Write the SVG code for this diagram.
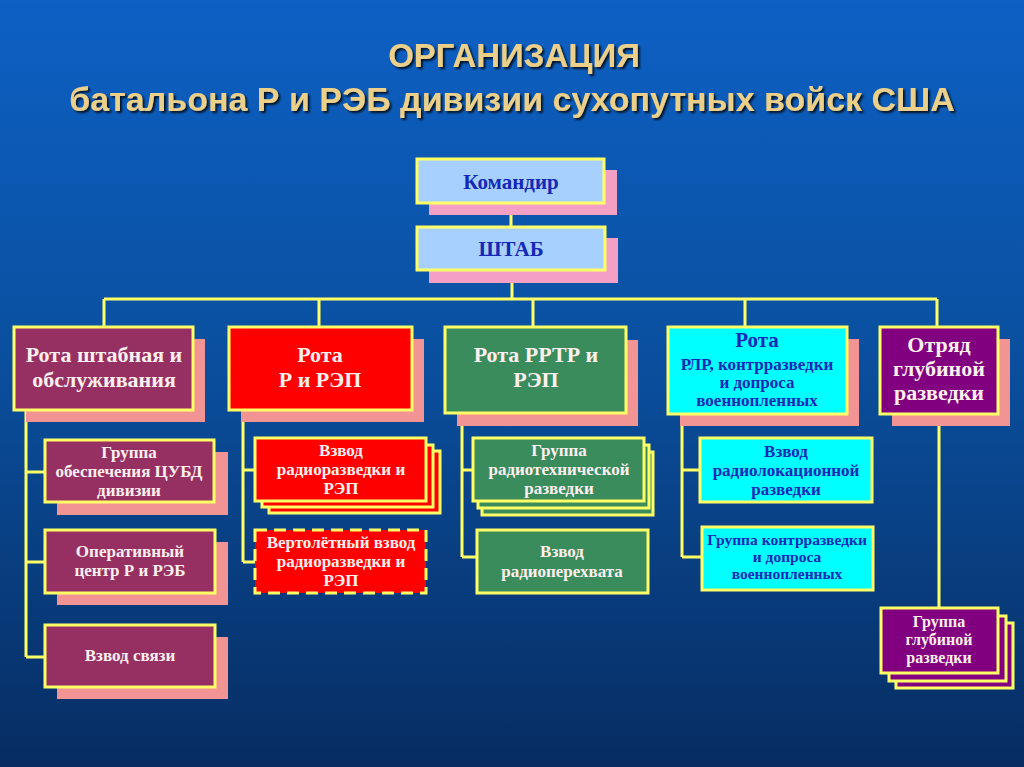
<svg xmlns="http://www.w3.org/2000/svg" width="1024" height="767" viewBox="0 0 1024 767">
<defs>
<linearGradient id="bg" x1="0" y1="0" x2="0" y2="1">
<stop offset="0" stop-color="#0d60c4"/>
<stop offset="0.45" stop-color="#0a50a0"/>
<stop offset="1" stop-color="#072d62"/>
</linearGradient>
<filter id="ts" x="-5%" y="-20%" width="110%" height="140%">
<feDropShadow dx="2" dy="2" stdDeviation="0.8" flood-color="#000" flood-opacity="0.8"/>
</filter>
</defs>
<style>
.title{font-family:"Liberation Sans",Arial,sans-serif;font-weight:bold;fill:#ecd08a;text-anchor:middle}
.b{stroke:#ffff66;stroke-width:3}
.d{stroke:#ffff66;stroke-width:3;stroke-dasharray:12 7}
.sh1{fill:#f4a0c4}
.sh{fill:#f29494}
.t{font-family:"Liberation Serif","Times New Roman",serif;font-weight:bold;text-anchor:middle}
.w{fill:#fff0f0}
.bl{fill:#1428b8}
.ln{stroke:#ffff66;stroke-width:3;fill:none}
.blue{fill:#a8d0ff}
.mar{fill:#963062}
.red{fill:#ff0000}
.grn{fill:#3a8c5c}
.cy{fill:#00ffff}
.pur{fill:#800080}
.h{font-size:22px}
.s{font-size:17px}
</style>
<rect width="1024" height="767" fill="url(#bg)"/>
<g id="title" filter="url(#ts)">
<text class="title" x="514" y="67" font-size="33">ОРГАНИЗАЦИЯ</text>
<text class="title" x="512" y="111" font-size="34">батальона Р и РЭБ дивизии сухопутных войск США</text>
</g>
<g id="connectors">
<path class="ln" d="M511 203 V227 M512 270 V299 M104 299 H937 M104 299 V327 M319 299 V327 M533 299 V327 M745 299 V327 M937 299 V327"/>
<path class="ln" d="M26 410 V657 M26 472 H45 M26 562 H45 M26 657 H45"/>
<path class="ln" d="M243 410 V562 M243 470 H255 M243 562 H255"/>
<path class="ln" d="M462 413 V557 M462 470 H473 M462 557 H477"/>
<path class="ln" d="M682 414 V557 M682 470 H700 M682 557 H702"/>
<path class="ln" d="M939 414 V608"/>
</g>
<g id="commander">
<rect class="sh1" x="429" y="170" width="188" height="45"/>
<rect class="b blue" x="417" y="159" width="187" height="44"/>
<text class="t bl" x="511" y="189" font-size="21">Командир</text>
</g>
<g id="shtab">
<rect class="sh1" x="429" y="238" width="189" height="45"/>
<rect class="b blue" x="417" y="227" width="188" height="43"/>
<text class="t bl" x="511" y="256" font-size="21">ШТАБ</text>
</g>
<g id="rota-shtab">
<rect class="sh" x="26" y="339" width="179" height="83"/>
<rect class="b mar" x="14" y="327" width="179" height="83"/>
<text class="t w h" x="104" y="362">Рота штабная и</text>
<text class="t w h" x="104" y="387">обслуживания</text>
</g>
<g id="rota-r-rep">
<rect class="sh" x="241" y="339" width="183" height="83"/>
<rect class="b red" x="229" y="327" width="183" height="83"/>
<text class="t w h" x="320" y="362">Рота</text>
<text class="t w h" x="320" y="387">Р и РЭП</text>
</g>
<g id="rota-rrtr">
<rect class="sh" x="457" y="340" width="181" height="86"/>
<rect class="b grn" x="445" y="327" width="181" height="86"/>
<text class="t w h" x="536" y="362">Рота РРТР и</text>
<text class="t w h" x="536" y="387">РЭП</text>
</g>
<g id="rota-rlr">
<rect class="sh" x="680" y="339" width="179" height="87"/>
<rect class="b cy" x="668" y="327" width="179" height="87"/>
<text class="t bl" x="757" y="347" font-size="21">Рота</text>
<text class="t bl" x="757" y="370" font-size="17">РЛР, контрразведки</text>
<text class="t bl" x="757" y="388" font-size="17">и допроса</text>
<text class="t bl" x="757" y="406" font-size="17">военнопленных</text>
</g>
<g id="otryad">
<rect class="sh" x="892" y="339" width="118" height="87"/>
<rect class="b pur" x="880" y="327" width="118" height="87"/>
<text class="t w h" x="939" y="352">Отряд</text>
<text class="t w h" x="939" y="376">глубиной</text>
<text class="t w h" x="939" y="400">разведки</text>
</g>
<g id="gruppa-tsubd">
<rect class="sh" x="57" y="452" width="171" height="63"/>
<rect class="b mar" x="45" y="440" width="169" height="62"/>
<text class="t w s" x="129" y="458">Группа</text>
<text class="t w s" x="129" y="477">обеспечения ЦУБД</text>
<text class="t w s" x="129" y="496">дивизии</text>
</g>
<g id="oper-centr">
<rect class="sh" x="57" y="542" width="171" height="63"/>
<rect class="b mar" x="45" y="530" width="170" height="63"/>
<text class="t w s" x="130" y="557">Оперативный</text>
<text class="t w s" x="130" y="576">центр Р и РЭБ</text>
</g>
<g id="vzvod-svyazi">
<rect class="sh" x="57" y="637" width="171" height="62"/>
<rect class="b mar" x="45" y="625" width="170" height="62"/>
<text class="t w s" x="130" y="661">Взвод связи</text>
</g>
<g id="vzvod-rr">
<rect class="b red" x="269" y="451" width="171" height="62"/>
<rect class="b red" x="262" y="445" width="171" height="62"/>
<rect class="b red" x="255" y="438" width="171" height="63"/>
<text class="t w s" x="341" y="456">Взвод</text>
<text class="t w s" x="341" y="475">радиоразведки и</text>
<text class="t w s" x="341" y="494">РЭП</text>
</g>
<g id="vert-vzvod">
<rect class="d red" x="255" y="530" width="171" height="63"/>
<text class="t w s" x="341" y="548">Вертолётный взвод</text>
<text class="t w s" x="341" y="567">радиоразведки и</text>
<text class="t w s" x="341" y="586">РЭП</text>
</g>
<g id="gruppa-rtr">
<rect class="b grn" x="482" y="452" width="171" height="63"/>
<rect class="b grn" x="478" y="445" width="171" height="63"/>
<rect class="b grn" x="473" y="438" width="171" height="63"/>
<text class="t w s" x="559" y="456">Группа</text>
<text class="t w s" x="559" y="475">радиотехнической</text>
<text class="t w s" x="559" y="494">разведки</text>
</g>
<g id="vzvod-rp">
<rect class="b grn" x="477" y="530" width="171" height="63"/>
<text class="t w s" x="562" y="557">Взвод</text>
<text class="t w s" x="562" y="577">радиоперехвата</text>
</g>
<g id="vzvod-rlr">
<rect class="b cy" x="700" y="438" width="172" height="64"/>
<text class="t bl s" x="786" y="457">Взвод</text>
<text class="t bl s" x="786" y="476">радиолокационной</text>
<text class="t bl s" x="786" y="495">разведки</text>
</g>
<g id="gruppa-kr">
<rect class="b cy" x="702" y="527" width="171" height="63"/>
<text class="t bl" x="787" y="545" font-size="15.5">Группа контрразведки</text>
<text class="t bl" x="787" y="562" font-size="15.5">и допроса</text>
<text class="t bl" x="787" y="579" font-size="15.5">военнопленных</text>
</g>
<g id="gruppa-gr">
<rect class="b pur" x="896" y="623" width="117" height="65"/>
<rect class="b pur" x="889" y="616" width="117" height="65"/>
<rect class="b pur" x="881" y="608" width="117" height="65"/>
<text class="t w" x="939" y="627" font-size="16">Группа</text>
<text class="t w" x="939" y="645" font-size="16">глубиной</text>
<text class="t w" x="939" y="663" font-size="16">разведки</text>
</g>
</svg>
